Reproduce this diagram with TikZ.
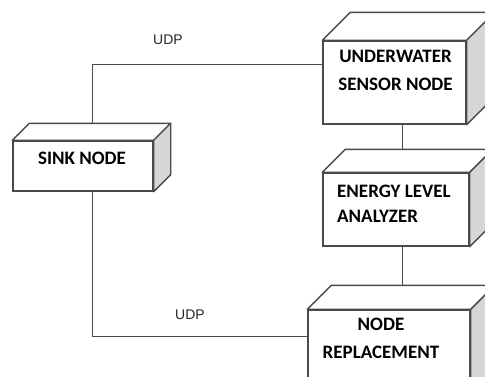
\documentclass[tikz,border=0pt]{standalone}
\usepackage{fontspec}
\setmainfont{Carlito}
\newfontfamily\udpfont{Liberation Sans}
\usetikzlibrary{calc}
\definecolor{edge}{HTML}{4A4A4A}
\definecolor{sidegray}{HTML}{D6D6D6}
\tikzset{
  front/.style={draw=edge, line width=1.4pt, fill=white, minimum width=#1, inner sep=0pt},
  facetop/.style={draw=edge, line width=1.4pt, fill=white, line join=round},
  faceside/.style={draw=edge, line width=1.4pt, fill=sidegray, line join=round},
  link/.style={draw=edge, line width=1.2pt},
  boxtext/.style={font=\fontsize{19}{23}\selectfont\bfseries, text=black, inner sep=0pt},
  udptext/.style={font=\udpfont\fontsize{14}{16}\selectfont, text=black!85, inner sep=0pt}
}
\newcommand{\cubefaces}[2]{%
  \path[facetop] (#1.north west) -- ++(#2,-#2) -- ($(#1.north east)+(#2,-#2)$) -- (#1.north east) -- cycle;
  \path[faceside] (#1.north east) -- ++(#2,-#2) -- ($(#1.south east)+(#2,-#2)$) -- (#1.south east) -- cycle;
}
\begin{document}
\begin{tikzpicture}[x=1pt,y=-1pt]
\useasboundingbox (0,0) rectangle (485,376);
\clip (0,0) rectangle (485,376);
\fill[white] (0,0) rectangle (485,376);

% front faces
\node[front=143pt, minimum height=83pt] (b1) at (394.5,82.5) {};
\node[front=140pt, minimum height=50pt] (b2) at (83,166) {};
\node[front=146pt, minimum height=73pt] (b3) at (396,209.5) {};
\node[front=162pt, minimum height=90pt] (b4) at (389,355) {};

% top and side faces
\cubefaces{b1}{28}
\cubefaces{b2}{17}
\cubefaces{b3}{23}
\cubefaces{b4}{24}

% labels
\node[boxtext, align=center] (t1) at (395.5,70) {UNDERWATER\\[5pt]SENSOR NODE};
\node[boxtext] (t2) at (82,158) {SINK NODE};
\node[boxtext, align=left, anchor=west] (t3) at (337,203.5) {ENERGY LEVEL\\[2pt]ANALYZER};
\node[boxtext, align=center] (t4) at (381,338) {NODE\\[5pt]REPLACEMENT};

\node[udptext] (u1) at (168,40) {UDP};
\node[udptext] (u2) at (190,315) {UDP};

% connectors
\coordinate (s2top) at ([xshift=80pt,yshift=17pt]b2.north west);
\coordinate (s2bot) at ([xshift=80pt]b2.south west);
\coordinate (b1in) at ([yshift=-24pt]b1.north west);
\coordinate (b4in) at ([yshift=-27pt]b4.north west);
\coordinate (b1out) at ([xshift=80pt]b1.south west);
\coordinate (b3top) at ([xshift=80pt,yshift=23pt]b3.north west);
\coordinate (b3out) at ([xshift=80pt]b3.south west);
\coordinate (b4top) at ([xshift=95pt,yshift=24pt]b4.north west);

\draw[link] (s2top) |- (b1in);
\draw[link] (s2bot) |- (b4in);
\draw[link] (b1out) -- (b3top);
\draw[link] (b3out) -- (b4top);
\end{tikzpicture}
\end{document}
